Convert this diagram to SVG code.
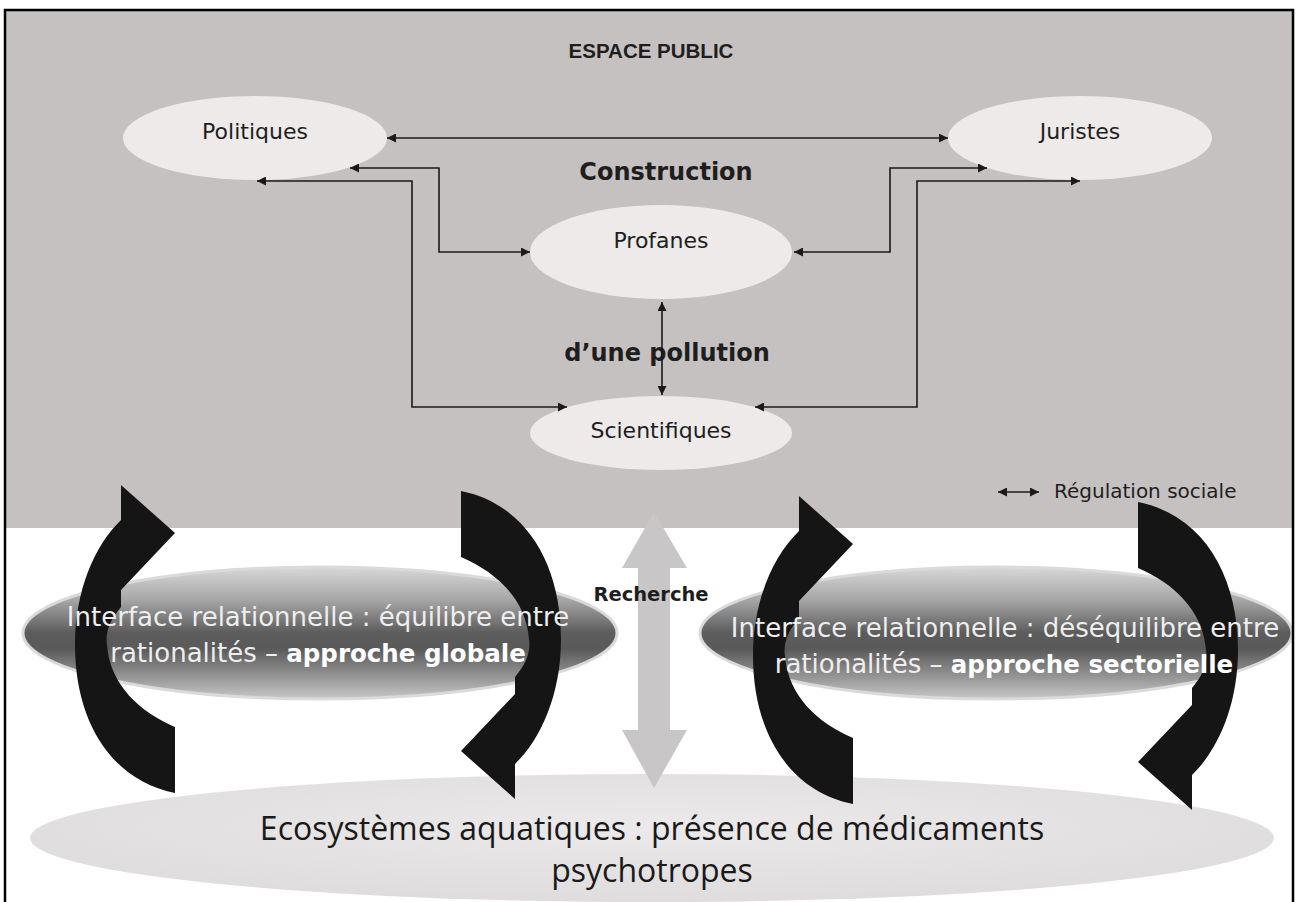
<svg xmlns="http://www.w3.org/2000/svg" xmlns:xlink="http://www.w3.org/1999/xlink" width="1298" height="902" viewBox="0 0 1298 902">
<defs>
<style>
.node{fill:#edeae9;}
.lbl{font-family:"DejaVu Sans",sans-serif;font-size:22px;fill:#1e1e1e;text-anchor:middle;}
.big{font-family:"DejaVu Sans",sans-serif;font-weight:bold;font-size:24px;fill:#1e1e1e;text-anchor:middle;}
.con{fill:none;stroke:#1a1a1a;stroke-width:1.6;marker-start:url(#ah);marker-end:url(#ah);}
.cyc{fill:#151515;}
.itx{font-family:"DejaVu Sans",sans-serif;font-size:26px;fill:#eeeeee;text-anchor:middle;}
.itx .b{font-weight:bold;fill:#ffffff;font-size:24.5px;}
.eco{font-family:"Open Sans",sans-serif;font-size:32px;fill:#1a1a1a;text-anchor:middle;}
</style>
<marker id="ah" viewBox="0 0 10 10" refX="10" refY="5" markerWidth="11" markerHeight="9" markerUnits="userSpaceOnUse" orient="auto-start-reverse">
<path d="M0,0 L10,5 L0,10 Z" fill="#1a1a1a"/>
</marker>
<linearGradient id="gi" x1="0" y1="0" x2="0" y2="1">
<stop offset="0" stop-color="#d8d8d8"/>
<stop offset="0.25" stop-color="#a6a6a6"/>
<stop offset="0.5" stop-color="#5c5c5c"/>
<stop offset="0.62" stop-color="#5a5a5a"/>
<stop offset="0.85" stop-color="#9a9a9a"/>
<stop offset="1" stop-color="#c8c8c8"/>
</linearGradient>
<radialGradient id="ge" cx="0.5" cy="0.4" r="0.6">
<stop offset="0" stop-color="#ebe9e9"/>
<stop offset="1" stop-color="#dedcdc"/>
</radialGradient>
<path id="arcUp" d="M121,485 L175,533 L121,590 L121,607 C110,620 105,632 107,645 C110,685 140,712 175,727 L175,793 C110,780 75,720 75,645 C75,590 95,545 121,520 Z"/>
</defs>

<g id="background">
<rect x="0" y="0" width="1298" height="902" fill="#ffffff"/>
<rect x="5" y="10" width="1288" height="518" fill="#c5c1c0"/>
</g>

<g id="ecosystemes">
<ellipse cx="652" cy="838" rx="622" ry="64" fill="url(#ge)"/>
<text class="eco" x="652" y="840">Ecosystèmes aquatiques : présence de médicaments</text>
<text class="eco" x="652" y="882">psychotropes</text>
</g>

<g id="recherche">
<polygon points="654,512 687,568 670,568 670,730 687,730 654,788 622,730 638,730 638,568 622,568" fill="#c8c6c6"/>
<text x="651" y="601" font-family="'DejaVu Sans',sans-serif" font-weight="bold" font-size="19.5" fill="#1e1e1e" text-anchor="middle">Recherche</text>
</g>

<g id="interface-globale">
<ellipse cx="320" cy="633" rx="297" ry="66" fill="url(#gi)" stroke="#dadada" stroke-width="3"/>
<use xlink:href="#arcUp" class="cyc"/>
<use xlink:href="#arcUp" class="cyc" transform="rotate(180 318 642)"/>
<text class="itx" x="318" y="626">Interface relationnelle : équilibre entre</text>
<text class="itx" x="318" y="662">rationalités – <tspan class="b">approche globale</tspan></text>
</g>

<g id="interface-sectorielle">
<ellipse cx="996" cy="633" rx="296" ry="66" fill="url(#gi)" stroke="#dadada" stroke-width="3"/>
<use xlink:href="#arcUp" class="cyc" transform="translate(678 11)"/>
<use xlink:href="#arcUp" class="cyc" transform="translate(677 11) rotate(180 318 642)"/>
<text class="itx" x="1005" y="637">Interface relationnelle : déséquilibre entre</text>
<text class="itx" x="1004" y="673">rationalités – <tspan class="b">approche sectorielle</tspan></text>
</g>

<g id="labels">
<text x="651" y="58" font-family="'Liberation Sans',sans-serif" font-weight="bold" font-size="20.5" fill="#1e1e1e" text-anchor="middle">ESPACE PUBLIC</text>
<text class="big" x="666" y="180">Construction</text>
<text class="big" x="667" y="361">d’une pollution</text>
</g>

<g id="politiques">
<ellipse class="node" cx="255" cy="138" rx="132" ry="42"/>
<text class="lbl" x="255" y="139">Politiques</text>
</g>
<g id="juristes">
<ellipse class="node" cx="1080" cy="138" rx="132" ry="42"/>
<text class="lbl" x="1080" y="139">Juristes</text>
</g>
<g id="profanes">
<ellipse class="node" cx="661" cy="252" rx="131" ry="47"/>
<text class="lbl" x="661" y="248">Profanes</text>
</g>
<g id="scientifiques">
<ellipse class="node" cx="661" cy="433" rx="131" ry="37"/>
<text class="lbl" x="661" y="438">Scientifiques</text>
</g>

<g id="connectors">
<path class="con" d="M387,138 H948"/>
<path class="con" d="M350,168 H439 V252 H530"/>
<path class="con" d="M257,181 H412 V407 H567"/>
<path class="con" d="M794,252 H890 V168 H987"/>
<path class="con" d="M755,407 H917 V181 H1080"/>
<path class="con" d="M662,302 V395"/>
</g>

<g id="legende">
<path class="con" d="M998,492 H1039"/>
<text x="1054" y="498" font-family="'DejaVu Sans',sans-serif" font-size="20" fill="#1e1e1e">Régulation sociale</text>
</g>

<rect x="5" y="10" width="1288" height="900" fill="none" stroke="#000000" stroke-width="2.5"/>
</svg>
